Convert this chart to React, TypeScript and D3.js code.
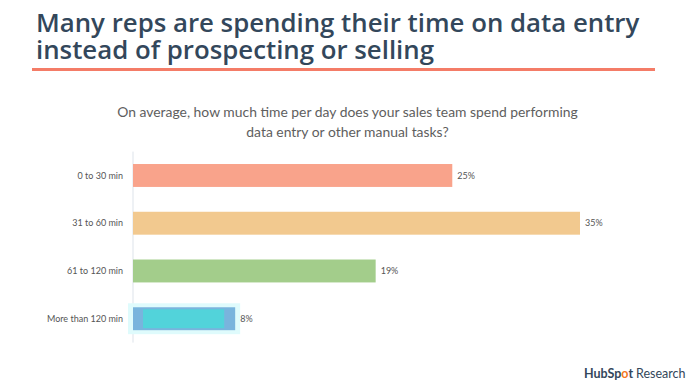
import * as d3 from 'd3';
import React from 'react';

const categories = ['0 to 30 min', '31 to 60 min', '61 to 120 min', 'More than 120 min'];
const values = [25, 35, 19, 8];
const barColors = ['#f9a38b', '#f2c98f', '#a3cd8b', '#52d3da'];
const titleLines = [
  'Many reps are spending their time on data entry',
  'instead of prospecting or selling',
];
const subtitleLines = [
  'On average, how much time per day does your sales team spend performing',
  'data entry or other manual tasks?',
];

const W = 697;
const H = 387;
const FONT = 'Lato, "Noto Sans", sans-serif';

export default function App() {
  const x = d3.scaleLinear().domain([0, 35]).range([133, 580]);
  const y = d3
    .scaleBand<string>()
    .domain(categories)
    .range([151.6, 342.6])
    .paddingInner(0.52)
    .paddingOuter(0.26);
  const bh = y.bandwidth();

  return (
    <svg
      width={W}
      height={H}
      style={{ position: 'absolute', left: 0, top: 0, background: '#fff' }}
      fontFamily={FONT}
    >
      {/* title */}
      {titleLines.map((t, i) => (
        <text
          key={t}
          x={36}
          y={32 + i * 26.5}
          fontSize={25.8}
          fontWeight={600}
          fontFamily='"Open Sans", sans-serif'
          fill="#33475b"
        >
          {t}
        </text>
      ))}
      <line x1={32} x2={655} y1={69.5} y2={69.5} stroke="#f47c67" strokeWidth={3} />

      {/* subtitle */}
      {subtitleLines.map((t, i) => (
        <text key={t} x={347.5} y={117 + i * 20} fontSize={13.9} textAnchor="middle" fill="#5e5e5e">
          {t}
        </text>
      ))}

      {/* axis line */}
      <line
        x1={x(0)}
        x2={x(0)}
        y1={y.range()[0]}
        y2={y.range()[1]}
        stroke="#dde3ea"
        strokeWidth={1}
      />

      {categories.map((c, i) => {
        const by = y(c)!;
        const x0 = x(0);
        const x1 = x(values[i]);
        const last = i === categories.length - 1;
        return (
          <g key={c}>
            {last && (
              <>
                <rect x={x0 - 5} y={by - 4} width={x1 - x0 + 10} height={bh + 8} fill="#dffbfc" />
                <rect x={x0} y={by} width={x1 - x0} height={bh} fill="#79b4dd" />
                <rect x={x0 + 10} y={by + 2} width={x1 - x0 - 21} height={bh - 4} fill={barColors[i]} />
              </>
            )}
            {!last && <rect x={x0} y={by} width={x1 - x0} height={bh} fill={barColors[i]} />}
            <text
              x={123}
              y={by + bh / 2}
              dy="0.35em"
              textAnchor="end"
              fontSize={9}
              fill="#555"
            >
              {c}
            </text>
            <text x={x1 + 5} y={by + bh / 2} dy="0.35em" fontSize={9} fill="#555">
              {values[i]}%
            </text>
          </g>
        );
      })}

      {/* brand */}
      <text x={584} y={378} fontSize={12.5} fill="#33475b">
        <tspan fontWeight={700}>HubSp</tspan>
        <tspan fontWeight={700} fill="#f57722">o</tspan>
        <tspan fontWeight={700}>t</tspan>
        <tspan dx={3}>Research</tspan>
      </text>
    </svg>
  );
}
